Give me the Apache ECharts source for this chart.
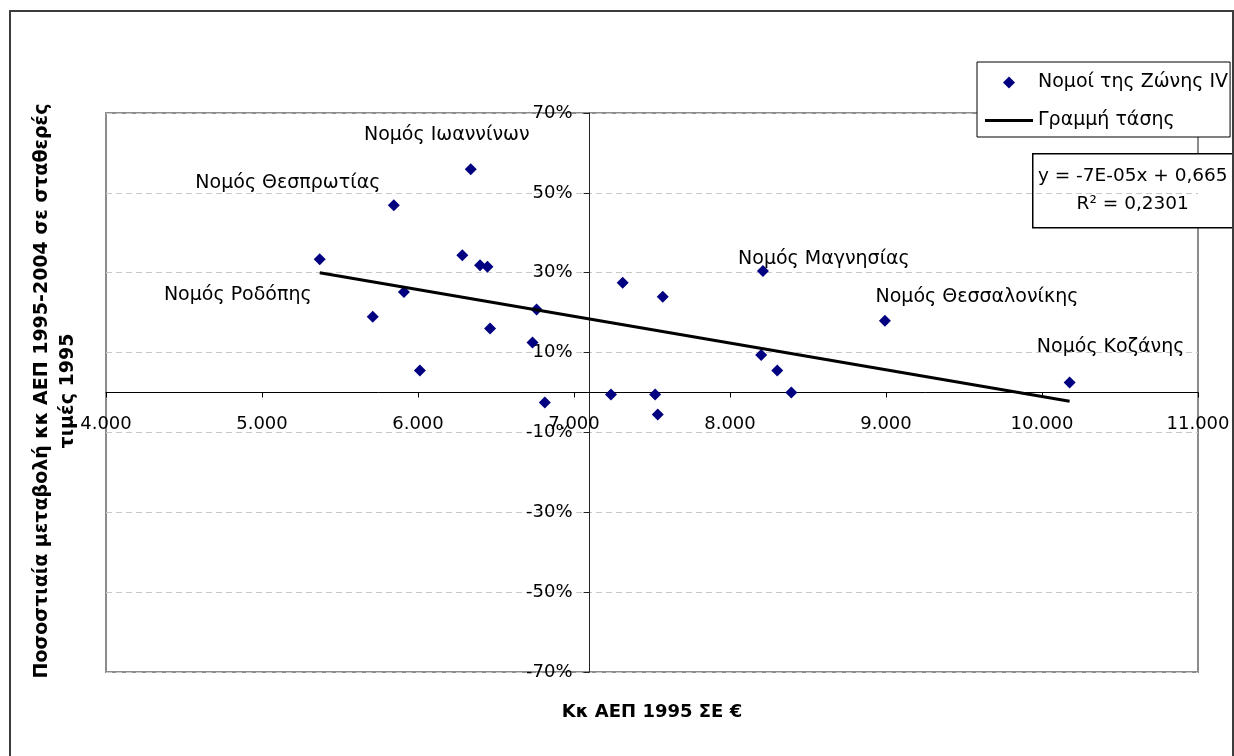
<!DOCTYPE html>
<html>
<head>
<meta charset="utf-8">
<script src="https://cdn.jsdelivr.net/npm/echarts@6/dist/echarts.min.js"></script>
<style>
html,body{margin:0;padding:0;background:#fff;}
#chart{width:1234px;height:756px;}
</style>
</head>
<body>
<div id="chart"></div>
<script>
// ---- data ----
const gdp1995 = [5370, 5710, 5845, 5910, 6012, 6284, 6338, 6398, 6445, 6462, 6734, 6760, 6813, 7237, 7312, 7520, 7537, 7569, 8200, 8211, 8303, 8393, 8993, 10177];
const growthPct = [33.4, 19.0, 46.9, 25.2, 5.5, 34.4, 55.9, 31.9, 31.5, 16.0, 12.5, 20.8, -2.5, -0.5, 27.5, -0.5, -5.5, 24.0, 9.4, 30.4, 5.5, 0.0, 18.0, 2.5];
const pointNames = ['', 'Νομός Ροδόπης', 'Νομός Θεσπρωτίας', '', '', '', 'Νομός Ιωαννίνων', '', '', '', '', '', '', '', '', '', '', '', '', 'Νομός Μαγνησίας', '', '', 'Νομός Θεσσαλονίκης', 'Νομός Κοζάνης'];
const xTicks = [4000, 5000, 6000, 7000, 8000, 9000, 10000, 11000];
const yTicksPct = [-70, -50, -30, -10, 10, 30, 50, 70];
const seriesName = 'Νομοί της Ζώνης IV';
const trendName = 'Γραμμή τάσης';
const equationText = 'y = -7E-05x + 0,665';
const r2Text = 'R² = 0,2301';
const yTitle = 'Ποσοστιαία μεταβολή κκ ΑΕΠ 1995-2004 σε σταθερές\nτιμές 1995';
const xTitle = 'Κκ ΑΕΠ 1995 ΣΕ €';
const yAxisCrossX = 7100;

// ---- styling ----
const FONT = '"DejaVu Sans", "Liberation Sans", sans-serif';
const labelOffsets = {
  'Νομός Ροδόπης': [-135, -22],
  'Νομός Θεσπρωτίας': [-106, -22],
  'Νομός Ιωαννίνων': [-24, -34],
  'Νομός Μαγνησίας': [61, -12],
  'Νομός Θεσσαλονίκης': [92, -24],
  'Νομός Κοζάνης': [41, -35]
};

// least-squares trend from the data
const n = gdp1995.length;
const ys = growthPct.map(v => v / 100);
const mx = gdp1995.reduce((a, b) => a + b, 0) / n;
const my = ys.reduce((a, b) => a + b, 0) / n;
let sxy = 0, sxx = 0;
for (let i = 0; i < n; i++) { sxy += (gdp1995[i] - mx) * (ys[i] - my); sxx += (gdp1995[i] - mx) ** 2; }
const slope = sxy / sxx, intercept = my - slope * mx;
const xMinD = Math.min(...gdp1995), xMaxD = Math.max(...gdp1995);
const trendData = [[xMinD, intercept + slope * xMinD], [xMaxD, intercept + slope * xMaxD]];

const scatterData = gdp1995.map((x, i) => {
  const item = { value: [x, ys[i]] };
  const nm = pointNames[i];
  if (nm) {
    item.label = { show: true, formatter: nm, position: 'inside', offset: labelOffsets[nm],
      color: '#000', opacity: 1, fontSize: 19, fontFamily: FONT };
  }
  return item;
});

const W = 1234, H = 756;
const gridLeft = 106, gridRight = 36, gridTop = 113, gridBottom = 84;
const gridWidth = W - gridLeft - gridRight;
const gridHeight = H - gridTop - gridBottom;
const xMin = xTicks[0], xMax = xTicks[xTicks.length - 1];
const yMin = yTicksPct[0] / 100, yMax = yTicksPct[yTicksPct.length - 1] / 100;
const yOffset = -(yAxisCrossX - xMin) / (xMax - xMin) * gridWidth;
const xOffset = -(0 - yMin) / (yMax - yMin) * gridHeight;

// legend icons drawn inside a 48x12 box (invisible moves fix the box)
const diamondIcon = 'path://M0,0 M48,12 M18,6 L24,0 L30,6 L24,12 Z';
const lineIcon = 'path://M0,0 M48,12 M0,4.5 L48,4.5 L48,7.5 L0,7.5 Z';

const chart = echarts.init(document.getElementById('chart'), null, { renderer: 'canvas' });
chart.setOption({
  animation: false,
  backgroundColor: '#fff',
  textStyle: { fontFamily: FONT },
  grid: { left: gridLeft, top: gridTop, right: gridRight, bottom: gridBottom, show: true, borderColor: '#8c8c8c', borderWidth: 2, backgroundColor: 'transparent' },
  legend: {
    orient: 'vertical', left: 977, top: 62,
    padding: [11, 2, 7, 8], itemGap: 19, itemWidth: 48, itemHeight: 12,
    backgroundColor: '#fff', borderColor: '#000', borderWidth: 1,
    textStyle: { fontSize: 19, color: '#000', fontFamily: FONT },
    data: [{ name: seriesName, icon: diamondIcon }, { name: trendName, icon: lineIcon }]
  },
  xAxis: {
    type: 'value', min: xMin, max: xMax, interval: xTicks[1] - xTicks[0],
    position: 'bottom', offset: xOffset,
    axisLine: { show: true, onZero: false, lineStyle: { color: '#000', width: 1 } },
    axisTick: { show: true, length: 5, lineStyle: { color: '#000' } },
    axisLabel: { margin: 23, color: '#000', fontSize: 18, fontFamily: FONT,
      formatter: v => String(Math.round(v)).replace(/\B(?=(\d{3})+(?!\d))/g, '.') },
    splitLine: { show: false }
  },
  yAxis: {
    type: 'value', min: yMin, max: yMax,
    interval: (yTicksPct[1] - yTicksPct[0]) / 100,
    position: 'left', offset: yOffset,
    axisLine: { show: true, onZero: false, lineStyle: { color: '#222', width: 1 } },
    axisTick: { show: true, length: 6, lineStyle: { color: '#222' } },
    axisLabel: { margin: 17, color: '#000', fontSize: 18, fontFamily: FONT,
      formatter: v => Math.round(v * 100) + '%' },
    splitLine: { show: true, lineStyle: { type: [6, 4], color: '#c8c8c8', width: 1 } }
  },
  series: [
    {
      name: seriesName, type: 'scatter', symbol: 'diamond', symbolSize: 12,
      itemStyle: { color: '#000080', opacity: 1 },
      label: { color: '#000', fontSize: 19, fontFamily: FONT },
      emphasis: { disabled: true },
      data: scatterData, z: 3
    },
    {
      name: trendName, type: 'line', symbol: 'none', showSymbol: false,
      lineStyle: { color: '#000', width: 3 }, itemStyle: { color: '#000' },
      emphasis: { disabled: true },
      data: trendData, z: 4
    }
  ],
  graphic: [
    { type: 'rect', silent: true, z: 100, shape: { x: 10, y: 11, width: 1223, height: 800 },
      style: { fill: 'none', stroke: '#3c3c3c', lineWidth: 2 } },
    { type: 'text', silent: true, x: 55, y: 391, rotation: Math.PI / 2,
      style: { text: yTitle, textAlign: 'center', textVerticalAlign: 'middle', fill: '#000',
        font: 'bold 19px ' + FONT, lineHeight: 26 } },
    { type: 'text', silent: true, x: 652, y: 712,
      style: { text: xTitle, textAlign: 'center', textVerticalAlign: 'middle', fill: '#000',
        font: 'bold 18px ' + FONT } },
    { type: 'group', left: 1032, top: 153, z: 50, children: [
      { type: 'rect', shape: { x: 0, y: 0, width: 200, height: 74 },
        style: { fill: '#fff', stroke: '#000', lineWidth: 1.5 } },
      { type: 'text', x: 100, y: 22, style: { text: equationText, textAlign: 'center', textVerticalAlign: 'middle', fill: '#000', font: '18.5px ' + FONT } },
      { type: 'text', x: 100, y: 50, style: { text: r2Text, textAlign: 'center', textVerticalAlign: 'middle', fill: '#000', font: '18.5px ' + FONT } }
    ] }
  ]
});
</script>
</body>
</html>
